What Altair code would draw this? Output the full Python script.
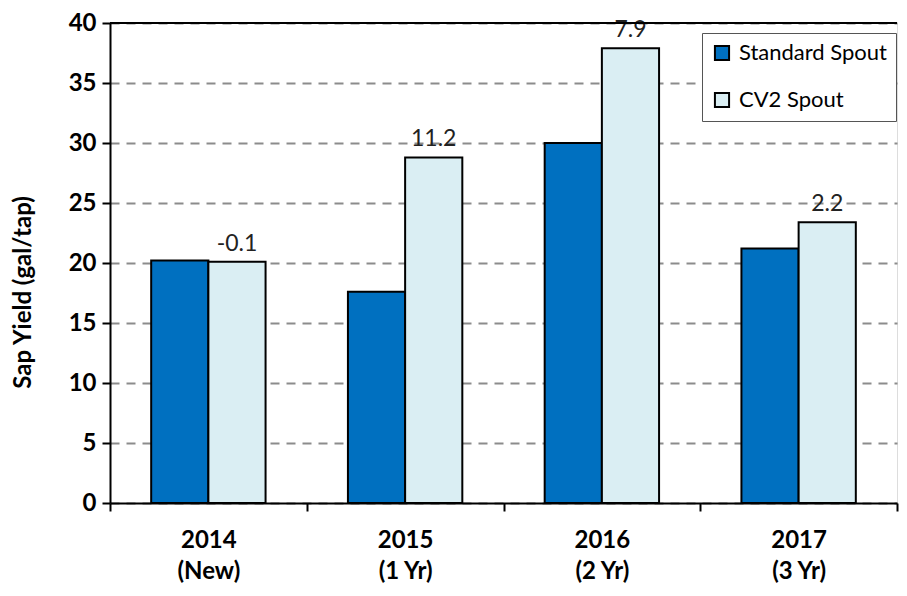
import altair as alt
import pandas as pd

categories = ["2014|(New)", "2015|(1 Yr)", "2016|(2 Yr)", "2017|(3 Yr)"]
series = ["Standard Spout", "CV2 Spout"]
standard = [20.2, 17.6, 30.0, 21.2]
cv2 = [20.1, 28.8, 37.9, 23.4]
diff_labels = ["-0.1", "11.2", "7.9", "2.2"]

rows = []
for c, s, v in zip(categories, standard, cv2):
    rows.append({"cat": c, "series": series[0], "value": s})
    rows.append({"cat": c, "series": series[1], "value": v})
bars_df = pd.DataFrame(rows)
lab_df = pd.DataFrame({"cat": categories, "series": series[1], "value": cv2, "label": diff_labels})
top_df = pd.DataFrame({"y": [40]})

FONT = "Lato"

x_enc = alt.X("cat:N", sort=categories, title=None,
              scale=alt.Scale(paddingInner=0, paddingOuter=0),
              axis=alt.Axis(labelExpr="split(datum.label, '|')", labelAngle=0,
                            labelFont=FONT, labelFontSize=24, labelFontWeight="bold",
                            labelColor="black", labelLineHeight=31, labelPadding=17,
                            tickBand="extent", tickColor="black", tickSize=8, tickWidth=2,
                            domainColor="black", domainWidth=2, grid=False))
y_scale = alt.Scale(domain=[0, 40], nice=False)
xoff = alt.XOffset("series:N", sort=series,
                   scale=alt.Scale(paddingInner=0, paddingOuter=0.72))

bars = alt.Chart(bars_df).mark_bar(stroke="black", strokeWidth=2).encode(
    x=x_enc,
    xOffset=xoff,
    y=alt.Y("value:Q", scale=y_scale, title="Sap Yield (gal/tap)",
            axis=alt.Axis(values=list(range(0, 41, 5)), labelFont=FONT, labelFontSize=24,
                          labelFontWeight="bold", labelColor="black", labelPadding=6,
                          tickColor="black", tickSize=8, tickWidth=2,
                          domainColor="black", domainWidth=2,
                          grid=True, gridColor="#8c8c8c", gridDash=[9, 7], gridWidth=2,
                          titleFont=FONT, titleFontSize=24, titleFontWeight="bold",
                          titleColor="black", titlePadding=33, titleY=269)),
    color=alt.Color("series:N", sort=series,
                    scale=alt.Scale(domain=series, range=["#0070C0", "#DAEEF3"]),
                    legend=alt.Legend(title=None, orient="none", legendX=592, legendY=10,
                                      fillColor="white", strokeColor="#555555", padding=9,
                                      labelFont=FONT, labelFontSize=22, labelColor="black",
                                      symbolType="square", symbolSize=200,
                                      symbolStrokeColor="black", symbolStrokeWidth=2,
                                      rowPadding=23, labelOffset=6)),
)

labels = alt.Chart(lab_df).mark_text(font=FONT, fontSize=23, color="#222222",
                                      baseline="bottom", dy=-6).encode(
    x=alt.X("cat:N", sort=categories),
    xOffset=alt.XOffset("series:N", sort=series),
    y=alt.Y("value:Q", scale=y_scale),
    text="label:N",
)

top = alt.Chart(top_df).mark_rule(color="black", strokeWidth=2).encode(
    y=alt.Y("y:Q", scale=y_scale)
)

chart = alt.layer(bars, labels, top).properties(
    width=787, height=480,
    autosize=alt.AutoSizeParams(type="none"),
    padding={"left": 102, "top": 15, "right": 2, "bottom": 82},
).configure_view(fill="#F0F0F0", stroke=None).configure(background="white")

chart.save("out.html", embed_options={"renderer": "svg", "actions": False})
